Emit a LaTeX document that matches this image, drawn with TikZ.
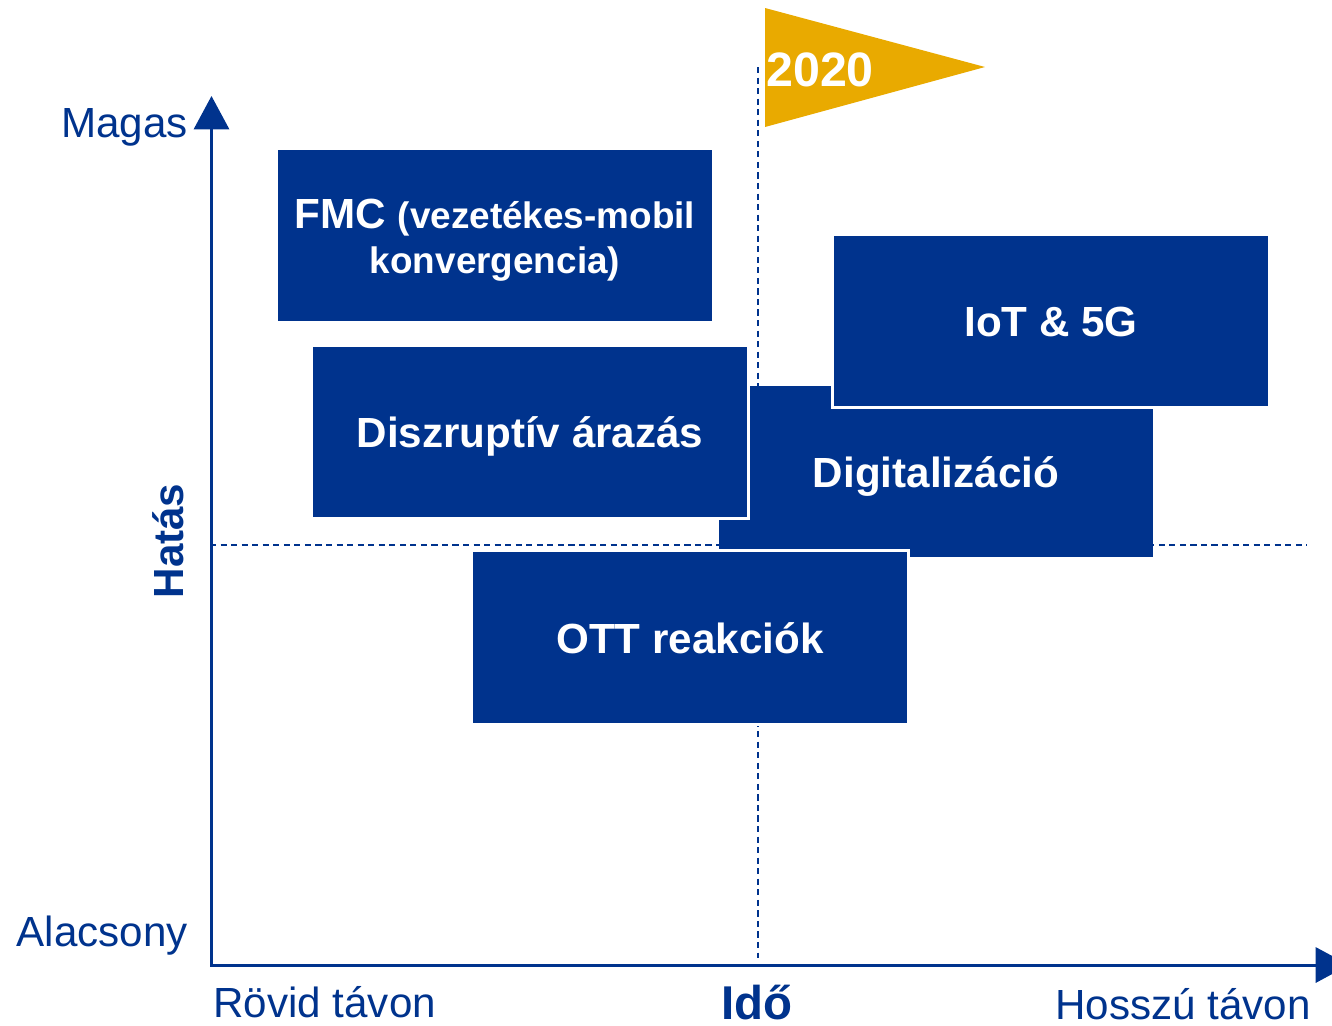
\documentclass[tikz,border=0pt]{standalone}
\usepackage{fontspec}
\setmainfont{Liberation Sans}
\usetikzlibrary{arrows.meta, positioning}
\definecolor{hblue}{RGB}{0,51,141}
\definecolor{hgold}{RGB}{233,170,0}
\newcommand{\smallbold}{\fontsize{21}{25.5}\selectfont}

\begin{document}
\begin{tikzpicture}[
    x=0.02cm, y=-0.02cm,
    card/.style={rectangle, fill=hblue, minimum width=8.68cm, minimum height=3.42cm, inner sep=0pt, text height=22pt, text depth=4pt, text=white, align=center, font=\bfseries\fontsize{24}{25.5}\selectfont},
    ontop/.style={card, draw=white, line width=1.7pt, minimum width=8.74cm, minimum height=3.48cm},
    axislabel/.style={text=hblue, font=\fontsize{24}{28}\selectfont, inner sep=0pt},
    axisline/.style={draw=hblue, line width=1.7pt, {Triangle[length=19pt, width=20pt]}-{Triangle[length=19pt, width=20pt]}},
    guide/.style={draw=hblue, line width=0.7pt, dash pattern=on 3.5pt off 2.5pt}
]
\useasboundingbox (0,0) rectangle (1332,1025);

% guide lines
\coordinate (vtop) at (758,67);
\coordinate (vbot) at (758,958);
\coordinate (hleft) at (210,545);
\coordinate (hright) at (1307,545);
\draw[guide] (vtop) -- (vbot);
\draw[guide] (hleft) -- (hright);

% flag
\fill[hgold] (765,8) -- (985,67) -- (765,127) -- cycle;
\node[text=white, font=\bfseries\fontsize{27.5}{30}\selectfont, anchor=base west, inner sep=0pt] (year) at (766,86) {2020};

% boxes
\node[card, text height=47.5pt] (fmc) at (495,235.5) {FMC {\smallbold(vezetékes-mobil}\\{\smallbold konvergencia)}};
\node[card] (digital) at (936,471.5) {Digitalizáció};
\node[ontop] (pricing) at (530,432) {Diszruptív árazás};
\node[ontop] (iot) at (1051,321) {IoT \& 5G};
\node[ontop] (ott) at (690,637.5) {OTT reakciók};

% axes
\coordinate (origin) at (211.5,965);
\coordinate (ytip) at (211.5,96);
\coordinate (xtip) at (1349,965);
\draw[axisline] (ytip) -- (origin) -- (xtip);

\node[axislabel, anchor=base east] (high) at (188,137) {Magas};
\node[axislabel, anchor=base east] (low) at (188,946) {Alacsony};
\node[axislabel, anchor=base west] (short) at (213,1017) {Rövid távon};
\node[axislabel, anchor=base east] (long) at (1311,1019) {Hosszú távon};
\node[axislabel, font=\bfseries\fontsize{27}{30}\selectfont, anchor=base] (time) at (757,1019) {Idő};
\node[axislabel, font=\bfseries\fontsize{24}{28}\selectfont, rotate=90, anchor=base] (impact) at (183,541) {Hatás};

\end{tikzpicture}
\end{document}
